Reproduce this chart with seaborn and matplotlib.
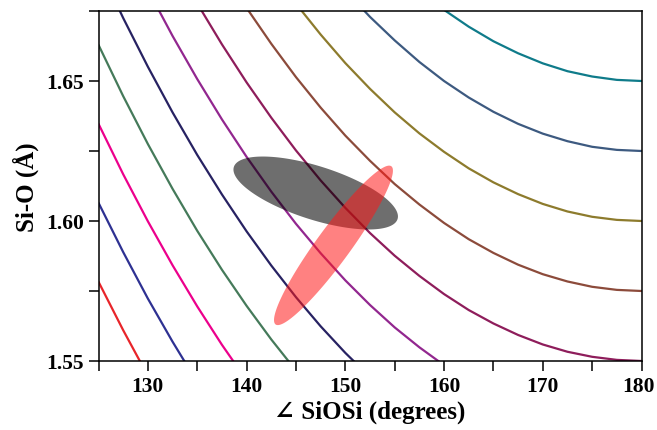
import numpy as np
import pandas as pd
import matplotlib
matplotlib.use("Agg")
import matplotlib.pyplot as plt
import matplotlib.transforms as mtransforms
import seaborn as sns

# ---------------- data ----------------
angles = [125.0, 127.5, 130.0, 132.5, 135.0, 137.5, 140.0, 142.5, 145.0, 147.5,
          150.0, 152.5, 155.0, 157.5, 160.0, 162.5, 165.0, 167.5, 170.0, 172.5,
          175.0, 177.5, 180.0]
N = None
curve_280 = [1.5783, 1.5610, 1.5447] + [N] * 20
curve_285 = [1.6065, 1.5889, 1.5723, 1.5569, 1.5424] + [N] * 18
curve_290 = [1.6347, 1.6167, 1.5999, 1.5842, 1.5695, 1.5558, 1.5431] + [N] * 16
curve_295 = [1.6629, 1.6446, 1.6275, 1.6115, 1.5965, 1.5826, 1.5697, 1.5577, 1.5466] + [N] * 14
curve_300 = [1.6911, 1.6725, 1.6551, 1.6388, 1.6236, 1.6095, 1.5963, 1.5841, 1.5728,
             1.5624, 1.5529, 1.5443] + [N] * 11
curve_305 = [N, N, 1.6826, 1.6661, 1.6507, 1.6363, 1.6229, 1.6105, 1.5990, 1.5885,
             1.5788, 1.5700, 1.5620, 1.5549, 1.5485] + [N] * 8
curve_310 = [N, N, N, 1.6934, 1.6777, 1.6631, 1.6495, 1.6369, 1.6252, 1.6145, 1.6047,
             1.5957, 1.5876, 1.5804, 1.5739, 1.5682, 1.5634, 1.5593, 1.5559, 1.5533,
             1.5515, 1.5504, 1.5500]
curve_315 = [N, N, N, N, N, 1.6899, 1.6761, 1.6633, 1.6514, 1.6405, 1.6305, 1.6215,
             1.6132, 1.6059, 1.5993, 1.5935, 1.5886, 1.5844, 1.5810, 1.5784, 1.5765,
             1.5754, 1.5750]
curve_320 = [N, N, N, N, N, N, N, 1.6897, 1.6776, 1.6666, 1.6564, 1.6472, 1.6388,
             1.6313, 1.6247, 1.6188, 1.6138, 1.6096, 1.6061, 1.6034, 1.6015, 1.6004, 1.6000]
curve_325 = [N, N, N, N, N, N, N, N, N, 1.6926, 1.6823, 1.6729, 1.6645, 1.6568, 1.6500,
             1.6441, 1.6390, 1.6347, 1.6312, 1.6285, 1.6265, 1.6254, 1.6250]
curve_330 = [N, N, N, N, N, N, N, N, N, N, N, N, 1.6900, 1.6823, 1.6754, 1.6694, 1.6642,
             1.6599, 1.6563, 1.6535, 1.6516, 1.6504, 1.6500]

curves = {"2.80": curve_280, "2.85": curve_285, "2.90": curve_290, "2.95": curve_295,
          "3.00": curve_300, "3.05": curve_305, "3.10": curve_310, "3.15": curve_315,
          "3.20": curve_320, "3.25": curve_325, "3.30": curve_330}
curve_colors = ["#e8252a", "#2e3192", "#ec008c", "#457a5a", "#272262", "#92278f",
                "#8e1d5b", "#8c4b3b", "#8d7b2d", "#3d5a80", "#0f7b8a"]

# ellipses: centre and two conjugate semi-diameters (data units)
gray_center = (147.0, 1.610)
gray_u = (8.29, -0.00932)
gray_v = (0.825, 0.0091)
red_center = (148.8, 1.5913)
red_u = (5.86, 0.02825)
red_v = (1.387, -0.00359)

x_ticks = [125, 130, 135, 140, 145, 150, 155, 160, 165, 170, 175, 180]
x_ticklabels = ["", "130", "", "140", "", "150", "", "160", "", "170", "", "180"]
y_ticks = [1.55, 1.575, 1.60, 1.625, 1.65, 1.675]
y_ticklabels = ["1.55", "", "1.60", "", "1.65", ""]

# ---------------- plot ----------------
sns.set_style("ticks")
plt.rcParams["font.family"] = ["Liberation Serif", "DejaVu Serif"]
plt.rcParams["font.weight"] = "bold"
plt.rcParams["text.color"] = "black"
plt.rcParams["axes.labelcolor"] = "black"

rows = []
for name, ys in curves.items():
    for a, r in zip(angles, ys):
        if r is not None:
            rows.append((name, a, r))
df = pd.DataFrame(rows, columns=["d", "angle", "r"])

fig = plt.figure(figsize=(6.57, 4.31), dpi=100)
ax = fig.add_axes([98.5 / 657, 69 / 431, 543 / 657, 350 / 431])

sns.lineplot(data=df, x="angle", y="r", hue="d", palette=curve_colors,
             sort=False, estimator=None, legend=False, linewidth=1.6, ax=ax)

t = np.linspace(0, 2 * np.pi, 200)
def ell(c, u, v):
    return (c[0] + u[0] * np.cos(t) + v[0] * np.sin(t),
            c[1] + u[1] * np.cos(t) + v[1] * np.sin(t))

gx, gy = ell(gray_center, gray_u, gray_v)
ax.fill(gx, gy, color="black", alpha=0.57, lw=0, zorder=3)
rx, ry = ell(red_center, red_u, red_v)
ax.fill(rx, ry, color="#ff1a1a", alpha=0.55, lw=0, zorder=4)

ax.set_xlim(125, 180)
ax.set_ylim(1.55, 1.675)
ax.set_xticks(x_ticks)
ax.set_xticklabels(x_ticklabels)
ax.set_yticks(y_ticks)
ax.set_yticklabels(y_ticklabels)
ax.tick_params(direction="out", length=7.5, width=1.1, labelsize=15.5, pad=3,
               colors="black")
for s in ax.spines.values():
    s.set_linewidth(1.1)
    s.set_color("black")

# keep the last x label inside the canvas
last = ax.get_xticklabels()[-1]
last.set_transform(last.get_transform() +
                   mtransforms.ScaledTranslation(-3 / 100, 0, fig.dpi_scale_trans))

ax.set_xlabel("\u2220 SiOSi (degrees)", fontsize=18, fontweight="bold", labelpad=3)
ax.set_ylabel("Si-O (\u00c5)", fontsize=18, fontweight="bold", labelpad=5)

fig.savefig("out.png", dpi=100)
